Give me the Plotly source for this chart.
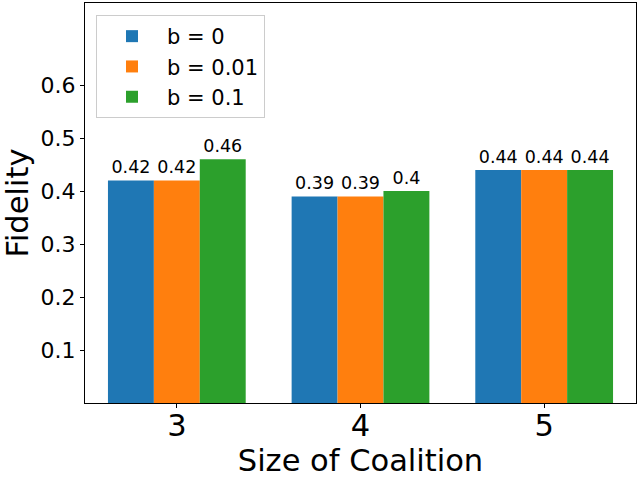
import plotly.graph_objects as go

categories = ["3", "4", "5"]
series_names = ["b = 0", "b = 0.01", "b = 0.1"]
values_b0 = [0.42, 0.39, 0.44]
values_b001 = [0.42, 0.39, 0.44]
values_b01 = [0.46, 0.40, 0.44]
colors = ["#1f77b4", "#ff7f0e", "#2ca02c"]
y_ticks = [0.1, 0.2, 0.3, 0.4, 0.5, 0.6]

fig = go.Figure()
for name, vals, col in zip(series_names, [values_b0, values_b001, values_b01], colors):
    fig.add_trace(go.Bar(
        x=categories, y=vals, name=name, marker=dict(color=col, line=dict(width=0)),
        text=[f"{v:g}" for v in vals], textposition="outside",
        textfont=dict(size=17.5, color="black"), cliponaxis=False,
    ))

fig.update_layout(
    width=640, height=480,
    margin=dict(l=85, r=4, t=3, b=77, autoexpand=False),
    paper_bgcolor="white", plot_bgcolor="white",
    barmode="group", bargap=0.25, bargroupgap=0,
    font=dict(family="DejaVu Sans", color="black"),
    uniformtext=dict(minsize=17, mode="show"),
    legend=dict(x=0.02, y=0.97, xanchor="left", yanchor="top",
                font=dict(size=21), bordercolor="#cccccc", borderwidth=1,
                bgcolor="rgba(255,255,255,0.8)", itemwidth=60, tracegroupgap=2),
    showlegend=True,
)
fig.update_xaxes(
    type="category", range=[-0.5, 2.5], automargin=False,
    title=dict(text="Size of Coalition", font=dict(size=30.5), standoff=6),
    tickfont=dict(size=30.5), ticklabelstandoff=-9,
    showline=True, linecolor="black", linewidth=1,
    mirror=True, ticks="outside", ticklen=4, tickcolor="black", showgrid=False,
)
fig.update_yaxes(
    range=[0, 0.755], tickvals=y_ticks, ticktext=[f"{t:g}" for t in y_ticks],
    automargin=False,
    title=dict(text="Fidelity", font=dict(size=30.5), standoff=8),
    tickfont=dict(size=22), showline=True, linecolor="black", linewidth=1,
    mirror=True, ticks="outside", ticklen=4, tickcolor="black", showgrid=False,
    zeroline=False,
)

fig.write_html(
    "out.html",
    config={"displayModeBar": False},
    post_script="document.body.style.margin='0';document.body.style.overflow='hidden';",
)
